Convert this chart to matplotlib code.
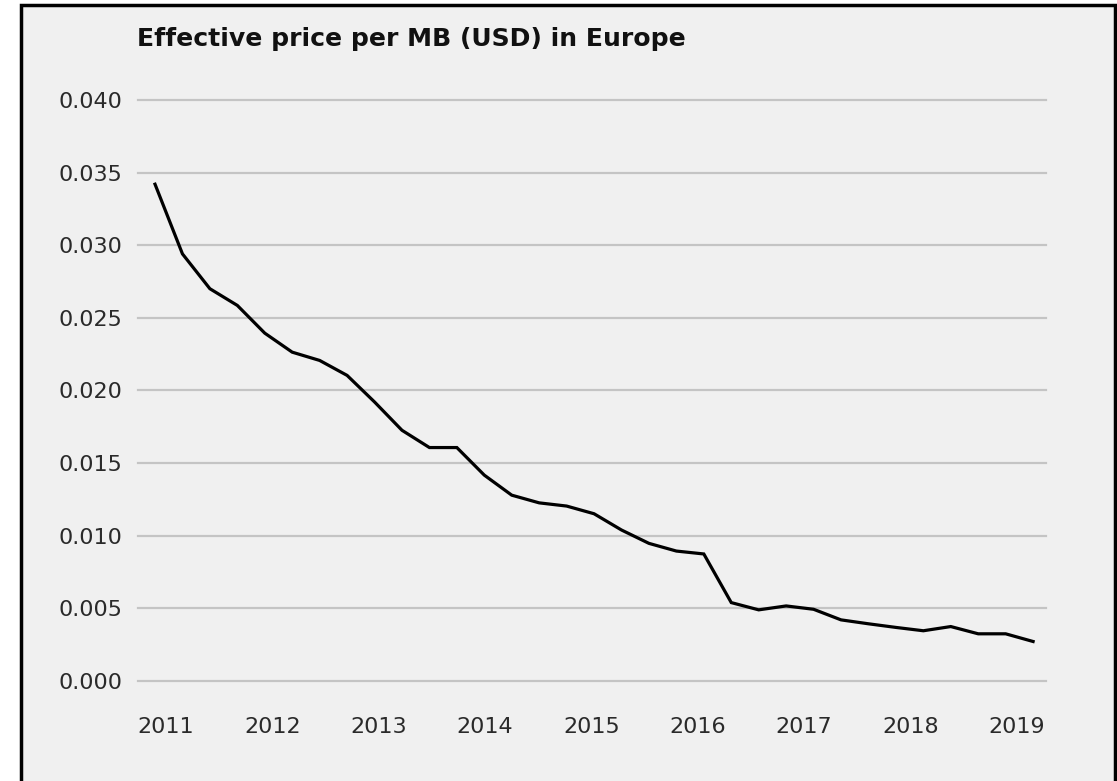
import numpy as np
import matplotlib.pyplot as plt
from matplotlib.patches import Rectangle

## data: quarterly effective price per MB (USD), 2011 Q1 .. 2019 Q1
price = [0.0342, 0.0294, 0.0270, 0.02585, 0.02394, 0.02263, 0.02206, 0.02103,
         0.0192, 0.01725, 0.01606, 0.01606, 0.01416, 0.01278, 0.01225, 0.01203,
         0.0115, 0.01038, 0.00946, 0.00893, 0.00873, 0.00538, 0.00488, 0.00515,
         0.00492, 0.00419, 0.00392, 0.00367, 0.00344, 0.00373, 0.00323, 0.00323,
         0.0027]
years = ['2011', '2012', '2013', '2014', '2015', '2016', '2017', '2018', '2019']
yticks = [0.000, 0.005, 0.010, 0.015, 0.020, 0.025, 0.030, 0.035, 0.040]

bg = '#f0f0f0'
font = ['DejaVu Sans']

fig = plt.figure(figsize=(11.17, 7.81), dpi=100, facecolor='white')
# grey panel with black frame
fig.patches.append(Rectangle((21/1117, -0.05), (1115-21)/1117, 1.05 - 5/781,
                             transform=fig.transFigure, facecolor=bg,
                             edgecolor='black', lw=2.5, zorder=-5))

ax = fig.add_axes([138/1117, 100.3/781, (1046-138)/1117, (680.7-100)/781])
ax.set_facecolor('none')
ax.set_zorder(2)

qx = np.arange(len(price))
ax.plot(qx, price, color='black', lw=2.3, solid_joinstyle='miter', zorder=3)

ax.set_xlim(-0.62, 32.47)
ax.set_ylim(0, 0.040)
ax.set_yticks(yticks)
ax.set_yticklabels(['{:.3f}'.format(v) for v in yticks], family=font, fontsize=16, color='#2a2a2a')
ax.set_xticks(np.linspace(0.4, 31.4, len(years)))
ax.set_xticklabels(years, family=font, fontsize=16, color='#2a2a2a')
ax.tick_params(axis='y', length=0, pad=11)
ax.tick_params(axis='x', length=0, pad=26)
ax.grid(axis='y', color='#c4c4c4', lw=1.6, zorder=1)
for gl in ax.get_ygridlines():
    gl.set_clip_on(False)
for s in ax.spines.values():
    s.set_visible(False)

fig.text(137/1117, 1 - 46/781, 'Effective price per MB (USD) in Europe',
         family=font, fontsize=18.1, fontweight='bold', color='#111111', va='baseline')

fig.savefig('out.png', dpi=100, facecolor='white')
